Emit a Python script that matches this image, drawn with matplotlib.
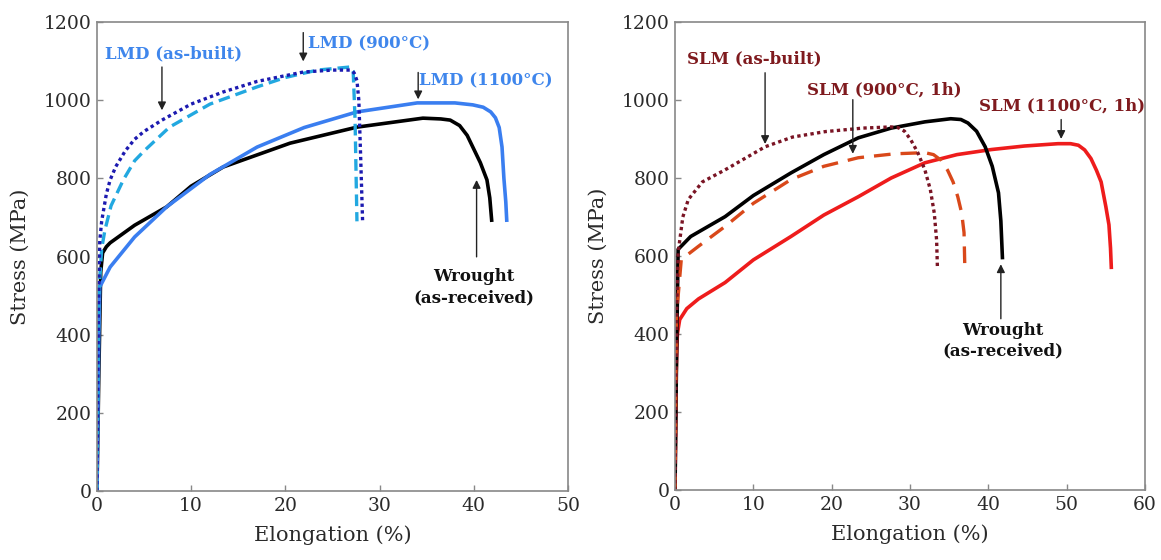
import matplotlib
matplotlib.use("Agg")
import matplotlib.pyplot as plt

# ---- data: left panel (LMD) ----
lmd_asbuilt_x = [0, 0.15, 0.3, 0.5, 1.0, 1.4, 2, 3, 4, 5, 6.9, 10, 13.4, 17, 21.9, 25, 26.9, 27.3, 27.6, 27.8, 28.0, 28.2]
lmd_asbuilt_y = [0, 450, 640, 690, 760, 796, 830, 870, 900, 920, 949, 990, 1021, 1048, 1072, 1077, 1077, 1070, 1050, 1000, 850, 690]

lmd_900_x = [0, 0.2, 0.5, 0.85, 1.5, 2.8, 4, 5, 7.7, 12, 17, 20, 23.4, 26.9, 27.2, 27.4, 27.6]
lmd_900_y = [0, 500, 620, 668, 730, 796, 845, 870, 931, 990, 1034, 1058, 1077, 1085, 1075, 950, 690]

lmd_1100_x = [0, 0.2, 0.3, 1.4, 4, 7.4, 12, 17, 22, 27.6, 34, 38, 39.9, 41, 41.8, 42.3, 42.7, 43.0, 43.2, 43.4, 43.5]
lmd_1100_y = [0, 400, 522, 573, 650, 727, 810, 880, 930, 970, 993, 993, 988, 982, 970, 955, 930, 880, 800, 740, 693]

wrought_l_x = [0, 0.2, 0.4, 0.6, 1.0, 1.4, 4, 7.4, 10, 13.4, 20.5, 27.6, 34.6, 36.5, 37.5, 38.5, 39.3, 39.9, 40.7, 41.4, 41.7, 41.9]
wrought_l_y = [0, 300, 560, 609, 625, 635, 680, 727, 780, 829, 890, 931, 954, 952, 949, 935, 910, 880, 840, 796, 750, 693]

# ---- data: right panel (SLM) ----
slm_asbuilt_x = [0, 0.2, 0.4, 1.0, 1.7, 3.5, 6.4, 11.5, 15, 19.2, 24, 27.6, 28.5, 29.3, 30.1, 31, 31.9, 32.6, 33.1, 33.4, 33.5]
slm_asbuilt_y = [0, 450, 609, 700, 745, 790, 821, 880, 905, 919, 928, 931, 929, 920, 898, 865, 821, 770, 710, 640, 571]

slm_900_x = [0, 0.2, 0.8, 3, 6.4, 10, 14.8, 19, 23.4, 28, 31.9, 33, 34, 34.8, 35.5, 36.1, 36.6, 36.9, 37.0]
slm_900_y = [0, 450, 591, 625, 676, 735, 796, 830, 852, 862, 865, 860, 845, 820, 790, 752, 710, 660, 571]

wrought_r_x = [0, 0.2, 0.4, 2, 6.4, 10, 14.8, 19, 23.4, 27.6, 31.9, 35.2, 36.5, 37.4, 38.5, 39.6, 40.5, 41.3, 41.6, 41.8]
wrought_r_y = [0, 350, 617, 650, 701, 755, 813, 860, 903, 928, 944, 952, 950, 941, 920, 880, 830, 762, 690, 596]

slm_1100_x = [0, 0.15, 0.3, 0.6, 1.5, 3, 6.4, 10, 14.8, 19, 23.4, 27.6, 31.9, 36, 40.4, 44.6, 48.9, 50.5, 51.5, 52.3, 53.1, 53.8, 54.4, 55, 55.4, 55.6, 55.7]
slm_1100_y = [0, 300, 400, 437, 465, 490, 532, 590, 650, 705, 752, 800, 839, 860, 873, 882, 888, 888, 884, 872, 850, 820, 790, 727, 680, 620, 571]

y_ticks = [0, 200, 400, 600, 800, 1000, 1200]
x_ticks_left = [0, 10, 20, 30, 40, 50]
x_ticks_right = [0, 10, 20, 30, 40, 50, 60]

plt.rcParams['font.family'] = ['DejaVu Serif']

fig = plt.figure(figsize=(11.61, 5.6), dpi=100)
axL = fig.add_axes([0.0835, 0.1232, 0.4057, 0.8375])
axR = fig.add_axes([0.5814, 0.1250, 0.4048, 0.8357])

LMD_TXT = '#3f86ec'
SLM_TXT = '#7f1a1e'
arrow_kw = dict(arrowstyle='-|>', color='#222222', lw=1.0, mutation_scale=12)

def style_axes(ax, xmax, xticks):
    ax.set_xlim(0, xmax)
    ax.set_ylim(0, 1200)
    ax.set_xticks(xticks)
    ax.set_yticks(y_ticks)
    for s in ax.spines.values():
        s.set_color('#888888')
        s.set_linewidth(1.2)
    ax.tick_params(direction='in', length=4, width=1, color='#888888',
                   labelsize=13.5, labelcolor='#2a2a2a', pad=4)
    ax.set_xlabel('Elongation (%)', fontsize=15, color='#2a2a2a', labelpad=8)
    ax.set_ylabel('Stress (MPa)', fontsize=15, color='#2a2a2a', labelpad=10)

# ---- left ----
axL.plot(wrought_l_x, wrought_l_y, color='black', lw=2.6, solid_joinstyle='round')
axL.plot(lmd_1100_x, lmd_1100_y, color='#3a7ef0', lw=2.6, solid_joinstyle='round')
axL.plot(lmd_900_x, lmd_900_y, color='#22a8e0', lw=2.4, linestyle=(0, (3.5, 1.8)))
axL.plot(lmd_asbuilt_x, lmd_asbuilt_y, color='#1c1ab0', lw=2.4, linestyle=(0, (1, 1)))
style_axes(axL, 50, x_ticks_left)

axL.text(0.9, 1118, 'LMD (as-built)', color=LMD_TXT, fontsize=12, fontweight='bold', va='center')
axL.annotate('', xy=(6.9, 967), xytext=(6.9, 1092), arrowprops=arrow_kw)
axL.text(22.4, 1143, 'LMD (900°C)', color=LMD_TXT, fontsize=12, fontweight='bold', va='center')
axL.annotate('', xy=(21.9, 1092), xytext=(21.9, 1180), arrowprops=arrow_kw)
axL.text(34.2, 1050, 'LMD (1100°C)', color=LMD_TXT, fontsize=12, fontweight='bold', va='center')
axL.annotate('', xy=(34.1, 995), xytext=(34.1, 1078), arrowprops=arrow_kw)
axL.annotate('', xy=(40.3, 803), xytext=(40.3, 592), arrowprops=arrow_kw)
axL.text(40.0, 570, 'Wrought\n(as-received)', color='#111111', fontsize=12, fontweight='bold',
         ha='center', va='top', linespacing=1.3)

# ---- right ----
axR.plot(slm_1100_x, slm_1100_y, color='#ee1c1c', lw=2.6, solid_joinstyle='round')
axR.plot(wrought_r_x, wrought_r_y, color='black', lw=2.6, solid_joinstyle='round')
axR.plot(slm_900_x, slm_900_y, color='#d9481a', lw=2.4, linestyle=(0, (5, 3)))
axR.plot(slm_asbuilt_x, slm_asbuilt_y, color='#7a1424', lw=2.4, linestyle=(0, (1, 1)))
style_axes(axR, 60, x_ticks_right)

axR.text(1.5, 1105, 'SLM (as-built)', color=SLM_TXT, fontsize=12, fontweight='bold', va='center')
axR.annotate('', xy=(11.5, 880), xytext=(11.5, 1077), arrowprops=arrow_kw)
axR.text(16.8, 1025, 'SLM (900°C, 1h)', color=SLM_TXT, fontsize=12, fontweight='bold', va='center')
axR.annotate('', xy=(22.7, 855), xytext=(22.7, 1008), arrowprops=arrow_kw)
axR.text(38.8, 985, 'SLM (1100°C, 1h)', color=SLM_TXT, fontsize=12, fontweight='bold', va='center')
axR.annotate('', xy=(49.3, 893), xytext=(49.3, 957), arrowprops=arrow_kw)
axR.annotate('', xy=(41.6, 586), xytext=(41.6, 432), arrowprops=arrow_kw)
axR.text(41.9, 432, 'Wrought\n(as-received)', color='#111111', fontsize=12, fontweight='bold',
         ha='center', va='top', linespacing=1.3)

fig.savefig('out.png', dpi=100, facecolor='white')
